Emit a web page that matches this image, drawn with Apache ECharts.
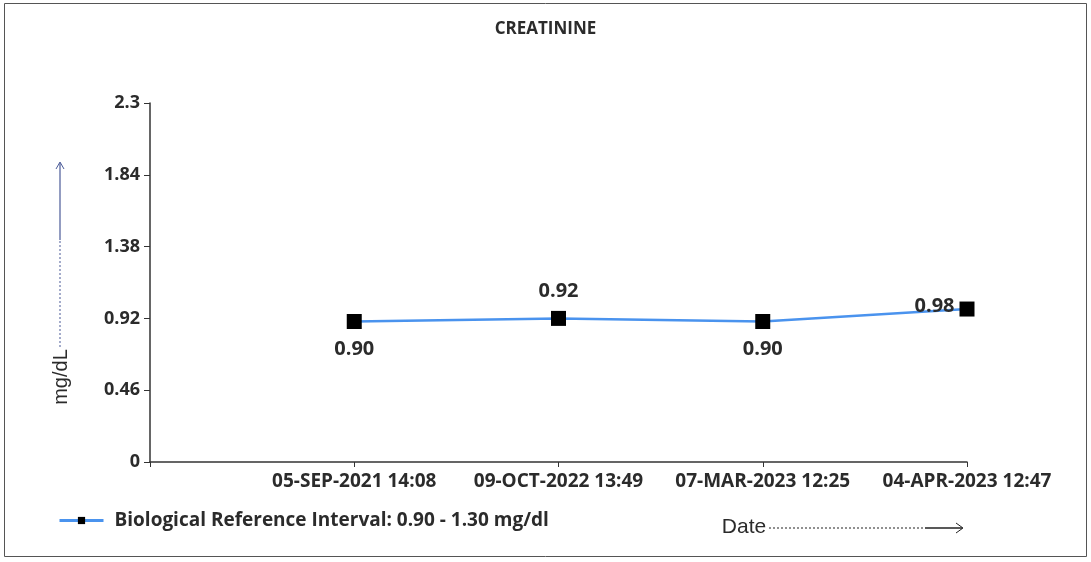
<!DOCTYPE html>
<html>
<head>
<meta charset="utf-8">
<style>
  html, body { margin: 0; padding: 0; background: #fff; }
  #chart { width: 1091px; height: 562px; }
</style>
<script src="https://cdn.jsdelivr.net/npm/echarts@6/dist/echarts.min.js"></script>
</head>
<body>
<div id="chart"></div>
<script>
// first slot is empty, points start one step right of the y axis
const dates = ['', '05-SEP-2021 14:08', '09-OCT-2022 13:49', '07-MAR-2023 12:25', '04-APR-2023 12:47'];
const values = ['-', 0.90, 0.92, 0.90, 0.98];
const labelPos = ['bottom', 'bottom', 'top', 'bottom', 'left'];
const yTicks = [0, 0.46, 0.92, 1.38, 1.84, 2.3];

const chart = echarts.init(document.getElementById('chart'));
const font = 'Open Sans';
const textColor = '#2b2b2b';

chart.setOption({
    animation: false,
    title: {
        text: 'CREATININE',
        left: 'center',
        top: 16,
        textStyle: { fontFamily: font, fontWeight: 'bold', fontSize: 17, color: textColor }
    },
    grid: { left: 150, right: 124, top: 103, bottom: 100 },
    legend: {
        left: 53,
        top: 506,
        itemWidth: 44,
        itemHeight: 9,
        lineStyle: { width: 3 },
        textStyle: { fontFamily: font, fontWeight: 'bold', fontSize: 19, color: textColor, padding: [0, 0, 0, 6] },
        data: ['Biological Reference Interval: 0.90 - 1.30 mg/dl']
    },
    xAxis: {
        type: 'category',
        data: dates,
        boundaryGap: false,
        axisLine: { lineStyle: { color: '#333', width: 1.5 } },
        axisTick: { length: 5, lineStyle: { color: '#333' } },
        axisLabel: {
            interval: 0,
            margin: 10,
            fontFamily: font, fontWeight: 'bold', fontSize: 19, color: textColor
        },
        splitLine: { show: false }
    },
    yAxis: {
        type: 'value',
        min: yTicks[0],
        max: yTicks[yTicks.length - 1],
        interval: 0.46,
        axisLine: { show: true, lineStyle: { color: '#333', width: 1.5 } },
        axisTick: { show: true, length: 6, lineStyle: { color: '#333' } },
        axisLabel: {
            margin: 10,
            fontFamily: font, fontWeight: 'bold', fontSize: 18, color: textColor,
            formatter: v => String(parseFloat(v.toFixed(2)))
        },
        splitLine: { show: false }
    },
    series: [{
        name: 'Biological Reference Interval: 0.90 - 1.30 mg/dl',
        type: 'line',
        data: values.map((v, i) => ({
            value: v,
            label: labelPos[i] === 'left'
                ? { position: 'left', distance: 5, offset: [0, -3] }
                : { position: labelPos[i], distance: 10 }
        })),
        symbol: 'rect',
        symbolSize: 15,
        lineStyle: { color: '#4a93ee', width: 2.5 },
        itemStyle: { color: '#000' },
        label: {
            show: true,
            formatter: p => p.value.toFixed(2),
            fontFamily: font, fontWeight: 'bold', fontSize: 20, color: textColor
        }
    }],
    graphic: [
        { type: 'rect', shape: { x: 4.5, y: 3.5, width: 1082, height: 553 }, style: { fill: 'none', stroke: '#555', lineWidth: 1 }, silent: true },
        // y axis name with arrow
        { type: 'text', x: 61, y: 377, rotation: Math.PI / 2, style: { text: 'mg/dL', fill: textColor, font: '20px "Liberation Sans Narrow", "Liberation Sans"', align: 'center', verticalAlign: 'middle' } },
        { type: 'line', shape: { x1: 60, y1: 347, x2: 60, y2: 240 }, style: { stroke: '#4a5a98', lineWidth: 1, lineDash: [2, 2] } },
        { type: 'line', shape: { x1: 60, y1: 240, x2: 60, y2: 163 }, style: { stroke: '#4a5a98', lineWidth: 1.2 } },
        { type: 'polyline', shape: { points: [[56, 169], [60, 162], [64, 169]] }, style: { stroke: '#4a5a98', lineWidth: 1, fill: 'none' } },
        // x axis name with arrow
        { type: 'text', x: 744, y: 527, style: { text: 'Date', fill: textColor, font: '21px "Liberation Sans Narrow", "Liberation Sans"', align: 'center', verticalAlign: 'middle' } },
        { type: 'line', shape: { x1: 769, y1: 528, x2: 925, y2: 528 }, style: { stroke: '#222', lineWidth: 1, lineDash: [2, 2] } },
        { type: 'line', shape: { x1: 925, y1: 528, x2: 962, y2: 528 }, style: { stroke: '#222', lineWidth: 1.5 } },
        { type: 'polyline', shape: { points: [[956, 523], [963, 528], [956, 533]] }, style: { stroke: '#222', lineWidth: 1, fill: 'none' } }
    ]
});
</script>
</body>
</html>
